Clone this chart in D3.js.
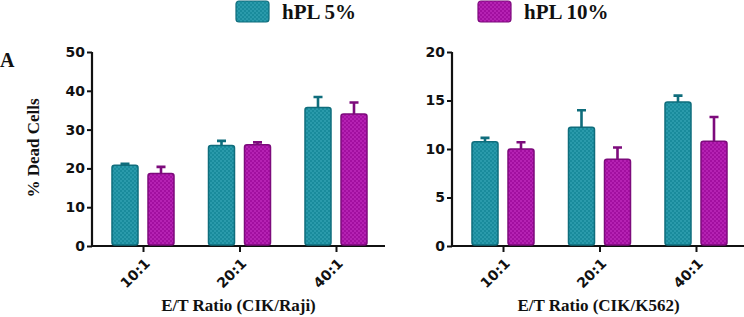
<!DOCTYPE html>
<html>
<head>
<meta charset="UTF-8" />
<script src="https://d3js.org/d3.v7.min.js"></script>
<style>
  body { margin: 0; background: #fff; }
  svg { display: block; }
  .tick-lbl { font-family: Verdana, "DejaVu Sans", sans-serif; font-weight: bold; font-size: 14px; fill: #111; }
  .serif { font-family: "Liberation Serif", "Times New Roman", serif; font-weight: bold; fill: #111; }
</style>
</head>
<body>
<svg width="744" height="317"></svg>
<script>
  // data
  const categories = ["10:1", "20:1", "40:1"];
  const series = ["hPL 5%", "hPL 10%"];

  const rajiMean5 = [20.8, 25.9, 35.7];
  const rajiErr5 = [21.2, 27.1, 38.4];
  const rajiMean10 = [18.7, 26.1, 34.0];
  const rajiErr10 = [20.4, 26.7, 37.0];

  const k562Mean5 = [10.75, 12.25, 14.85];
  const k562Err5 = [11.15, 14.0, 15.5];
  const k562Mean10 = [10.0, 8.95, 10.8];
  const k562Err10 = [10.7, 10.15, 13.3];

  const rajiTicks = [0, 10, 20, 30, 40, 50];
  const k562Ticks = [0, 5, 10, 15, 20];

  const fills = ["#198b9c", "#a20fa0"];
  const strokes = ["#0f6d7c", "#7d0b7c"];
  const lights = ["#2a9aab", "#b522b3"];

  const svg = d3.select("svg");

  // checker patterns
  const defs = svg.append("defs");
  fills.forEach((c, i) => {
    const p = defs.append("pattern")
      .attr("id", "chk" + i)
      .attr("width", 4).attr("height", 4)
      .attr("patternUnits", "userSpaceOnUse");
    p.append("rect").attr("width", 4).attr("height", 4).attr("fill", c);
    p.append("rect").attr("width", 2).attr("height", 2).attr("fill", lights[i]);
    p.append("rect").attr("x", 2).attr("y", 2).attr("width", 2).attr("height", 2).attr("fill", lights[i]);
  });

  function panel(x0, x1, yMax, ticks, means, errs, title) {
    const y = d3.scaleLinear().domain([0, yMax]).range([246, 52]);
    const x = d3.scalePoint().domain(categories).range([x0 + 51, x1 - 49]);
    const g = svg.append("g");

    const yAxis = g.append("g")
      .attr("transform", `translate(${x0},0)`)
      .call(d3.axisLeft(y).tickValues(ticks).tickSize(5).tickPadding(2));
    yAxis.select(".domain").attr("stroke", "#111").attr("stroke-width", 2.2).attr("d", `M0,${y(yMax)}V${y(0)}`);
    yAxis.selectAll(".tick line").attr("stroke", "#111").attr("stroke-width", 2);
    yAxis.selectAll(".tick text").attr("class", "tick-lbl");

    const xAxis = g.append("g")
      .attr("transform", `translate(0,${y(0)})`)
      .call(d3.axisBottom(x).tickSize(6));
    xAxis.select(".domain").attr("stroke", "#111").attr("stroke-width", 2.2).attr("d", `M${x0},0H${x1}`);
    xAxis.selectAll(".tick line").attr("stroke", "#111").attr("stroke-width", 2);
    xAxis.selectAll(".tick text")
      .attr("class", "tick-lbl")
      .attr("x", 0).attr("y", 0)
      .attr("text-anchor", "end")
      .attr("dy", "0.35em")
      .attr("transform", "translate(4,15) rotate(-45)");

    const bw = 26, off = 18;
    means.forEach((vals, s) => {
      const cx = d => x(d) + (s === 0 ? -off : off);
      // error bars
      g.selectAll(null).data(categories).enter().append("path")
        .attr("d", (d, i) => `M${cx(d)},${y(vals[i])}V${y(errs[s][i])}M${cx(d) - 4.5},${y(errs[s][i])}H${cx(d) + 4.5}`)
        .attr("stroke", strokes[s]).attr("stroke-width", 2.6).attr("fill", "none");
      g.selectAll(null).data(categories).enter().append("rect")
        .attr("x", d => cx(d) - bw / 2)
        .attr("y", (d, i) => y(vals[i]))
        .attr("width", bw)
        .attr("height", (d, i) => y(0) - y(vals[i]) - 1)
        .attr("rx", 2.5)
        .attr("fill", `url(#chk${s})`)
        .attr("stroke", strokes[s]).attr("stroke-width", 1.5);
    });

    g.append("text").attr("class", "serif")
      .attr("x", (x0 + x1) / 2).attr("y", 311)
      .attr("text-anchor", "middle").attr("font-size", 17)
      .text(title);
  }

  panel(92, 385, 50, rajiTicks, [rajiMean5, rajiMean10], [rajiErr5, rajiErr10], "E/T Ratio (CIK/Raji)");
  panel(452, 745, 20, k562Ticks, [k562Mean5, k562Mean10], [k562Err5, k562Err10], "E/T Ratio (CIK/K562)");

  // y label
  svg.append("text").attr("class", "serif")
    .attr("transform", "translate(39,148) rotate(-90)")
    .attr("text-anchor", "middle").attr("font-size", 17)
    .text("% Dead Cells");

  // panel letter
  svg.append("text").attr("class", "serif")
    .attr("x", 0).attr("y", 67).attr("font-size", 20)
    .text("A");

  // legend
  const legX = [236, 478];
  series.forEach((s, i) => {
    svg.append("rect")
      .attr("x", legX[i]).attr("y", 1).attr("width", 33).attr("height", 21).attr("rx", 3)
      .attr("fill", `url(#chk${i})`).attr("stroke", strokes[i]).attr("stroke-width", 1.2);
    svg.append("text").attr("class", "serif")
      .attr("x", legX[i] + 46).attr("y", 19).attr("font-size", 21)
      .text(s);
  });
</script>
</body>
</html>
